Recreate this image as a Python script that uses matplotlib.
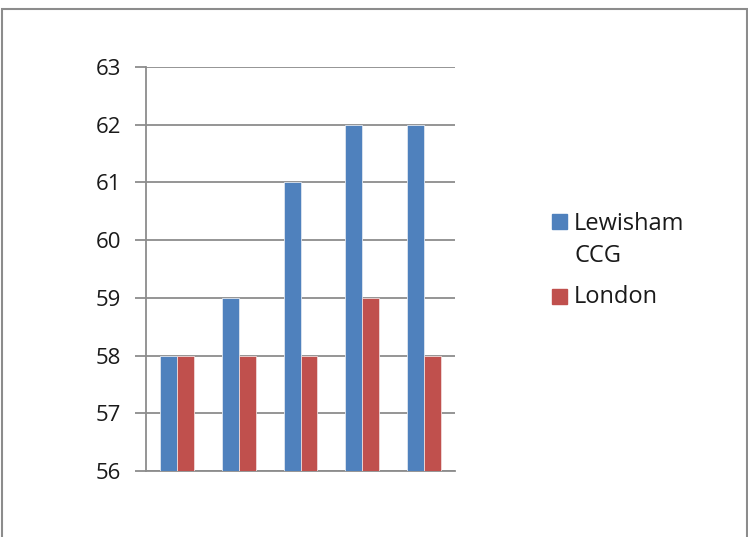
import numpy as np
import matplotlib.pyplot as plt
from matplotlib.patches import Rectangle

categories = ['1', '2', '3', '4', '5']
lewisham = [58, 59, 61, 62, 62]
london = [58, 58, 58, 59, 58]
series_names = ['Lewisham\nCCG', 'London']
colors = ['#4F81BD', '#C0504D']

plt.rcParams['font.family'] = ['Open Sans', 'DejaVu Sans']
W, H = 748, 537

fig = plt.figure(figsize=(W / 100, H / 100), dpi=100)
ax = fig.add_axes([146 / W, 1 - 471 / H, (455 - 146) / W, (471 - 67) / H])

# outer chart border
fig.patches.append(Rectangle((2 / W, -0.01), 1 - 3 / W, 1 - 9 / H + 0.01,
                             transform=fig.transFigure, fill=False,
                             edgecolor='#8c8c8c', linewidth=1.5))

x = np.arange(len(categories))
w = 0.275
ax.bar(x - w / 2, lewisham, w, color=colors[0], edgecolor='#dfe6f0', linewidth=0.6, zorder=3)
ax.bar(x + w / 2, london, w, color=colors[1], edgecolor='#f0dada', linewidth=0.6, zorder=3)

ax.set_xlim(-0.5, len(categories) - 0.5)
ax.set_ylim(56, 63)
ax.set_yticks(range(56, 64))
ax.set_xticks([])
ax.yaxis.grid(True, color='#8c8c8c', linewidth=1.3, zorder=0)
for side in ['top', 'right']:
    ax.spines[side].set_visible(False)
for side in ['left', 'bottom']:
    ax.spines[side].set_color('#8c8c8c')
    ax.spines[side].set_linewidth(1.3)
ax.tick_params(axis='y', length=8, width=1.3, color='#8c8c8c', labelsize=16,
               labelcolor='#1a1a1a', pad=10)

# legend drawn by hand so the swatch sits on the first line of a wrapped label
text_x = 574 / W
swatch_tops = [214, 289]
baselines = [230, 303]
line_step = 32
for name, color, top, base in zip(series_names, colors, swatch_tops, baselines):
    fig.patches.append(Rectangle((552 / W, 1 - (top + 15) / H), 15 / W, 15 / H,
                                 transform=fig.transFigure, color=color))
    for i, line in enumerate(name.split('\n')):
        fig.text(text_x, 1 - (base + i * line_step) / H, line, fontsize=17,
                 color='#1a1a1a', va='baseline', ha='left')

fig.savefig('out.png', dpi=100)
